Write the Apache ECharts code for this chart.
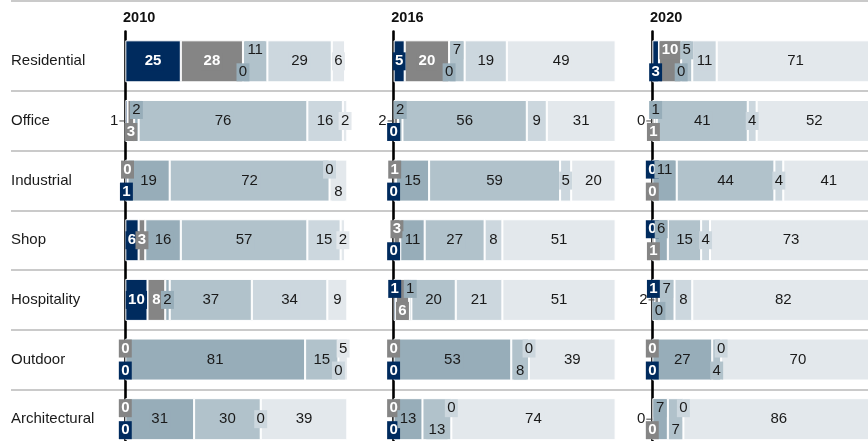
<!DOCTYPE html>
<html><head><meta charset="utf-8">
<script src="https://cdn.jsdelivr.net/npm/echarts@6/dist/echarts.min.js"></script>
<style>html,body{margin:0;padding:0;background:#fff}#c{width:868px;height:441px}</style>
</head><body><div id="c"></div><script>
// ---------- data ----------
const categories = ['Residential','Office','Industrial','Shop','Hospitality','Outdoor','Architectural'];
const years = ['2010','2016','2020'];
const segmentNames = ['Segment 1','Segment 2','Segment 3','Segment 4','Segment 5','Segment 6'];

// 2010
const v2010_s1 = [25, 1, 1, 6, 10, 0, 0];
const v2010_s2 = [28, 3, 0, 3, 8, 0, 0];
const v2010_s3 = [0, 2, 19, 16, 2, 81, 31];
const v2010_s4 = [11, 76, 72, 57, 37, 15, 30];
const v2010_s5 = [29, 16, 0, 15, 34, 0, 0];
const v2010_s6 = [6, 2, 8, 2, 9, 5, 39];
// 2016
const v2016_s1 = [5, 0, 0, 0, 1, 0, 0];
const v2016_s2 = [20, 2, 1, 3, 6, 0, 0];
const v2016_s3 = [0, 2, 15, 11, 1, 53, 13];
const v2016_s4 = [7, 56, 59, 27, 20, 8, 13];
const v2016_s5 = [19, 9, 5, 8, 21, 0, 0];
const v2016_s6 = [49, 31, 20, 51, 51, 39, 74];
// 2020
const v2020_s1 = [3, 0, 0, 0, 1, 0, 0];
const v2020_s2 = [10, 1, 0, 1, 2, 0, 0];
const v2020_s3 = [0, 1, 11, 6, 0, 27, 7];
const v2020_s4 = [5, 41, 44, 15, 7, 4, 7];
const v2020_s5 = [11, 4, 4, 4, 8, 0, 0];
const v2020_s6 = [71, 52, 41, 73, 82, 70, 86];

// ---------- label placement (c=centre, u=up, d=down, o=outside left) ----------
const place2010 = ['ccducc','oduccc','duccud','cccccc','cccccc','duccdu','duccc c'.replace(' ','')];
const place2016 = ['ccducc','douccc','duccc c'.replace(' ',''),'duccc c'.replace(' ',''),'uduccc','ducduc','ducduc'];
const place2020 = ['duducc','oduccc','uduccc','uduccc','uoducc','ducduc','odudu c'.replace(' ','')];

// ---------- styling ----------
const colors = ['#002b5e','#858585','#97adb9','#b1c2cb','#ccd7de','#e3e8ec'];
const FONT = '"Liberation Sans", Arial, sans-serif';
const axisX = [124, 392.3, 651];
const AX_OFF = 1.3;
const PANEL_W = 222;
const GRID_TOP = 31.5, GRID_H = 417.5;

const values = [
  [v2010_s1, v2010_s2, v2010_s3, v2010_s4, v2010_s5, v2010_s6],
  [v2016_s1, v2016_s2, v2016_s3, v2016_s4, v2016_s5, v2016_s6],
  [v2020_s1, v2020_s2, v2020_s3, v2020_s4, v2020_s5, v2020_s6]
];
const places = [place2010, place2016, place2020];

function makeLabel(v, s, code) {
  const dark = s < 2;
  if (code === 'o') {
    return {
      show: true, position: 'left', distance: 0,
      formatter: '{v|' + v + '}{l|}',
      rich: {
        v: { fontSize: 15, fontFamily: FONT, color: '#1a1a1a', padding: [0, 1, 0, 0] },
        l: { width: 6, height: 1, backgroundColor: '#444' }
      }
    };
  }
  const dy = code === 'u' ? -11 : (code === 'd' ? 11 : 0);
  return {
    show: true, position: 'inside', offset: [0, dy],
    fontSize: 15, fontFamily: FONT,
    color: dark ? '#ffffff' : '#1a1a1a',
    fontWeight: dark ? 'bold' : 'normal',
    backgroundColor: colors[s],
    padding: [2, 2.3, 1, 2.3],
    lineHeight: 15
  };
}

const grids = [], xAxes = [], yAxes = [], series = [], titles = [];
years.forEach((yr, i) => {
  grids.push({ left: axisX[i] + AX_OFF, top: GRID_TOP, width: PANEL_W, height: GRID_H, outerBoundsMode: 'none', containLabel: false });
  xAxes.push({ type: 'value', gridIndex: i, min: 0, max: 100, show: false });
  yAxes.push({
    type: 'category', gridIndex: i, data: categories, inverse: true, offset: AX_OFF, z: 1,
    axisLine: { show: true, lineStyle: { color: '#000', width: 2.6 } },
    axisTick: { show: false }, axisLabel: { show: false }, splitLine: { show: false }
  });
  titles.push({
    text: yr, left: axisX[i] - 1, top: 10, padding: 0,
    textStyle: { fontSize: 14.5, fontWeight: 'bold', color: '#111', fontFamily: FONT }
  });
  values[i].forEach((arr, s) => {
    series.push({
      type: 'bar', name: segmentNames[s], stack: 'y' + i,
      xAxisIndex: i, yAxisIndex: i, barWidth: 42, z: 2,
      itemStyle: { color: colors[s], borderColor: '#fff', borderWidth: 1 },
      data: arr.map((v, ci) => ({
        value: v,
        itemStyle: v === 0 ? { borderWidth: 0 } : undefined,
        label: makeLabel(v, s, places[i][ci][s])
      }))
    });
  });
});

// background grid: category names and row separators
grids.push({ left: 11, right: 0, top: GRID_TOP, height: GRID_H, outerBoundsMode: 'none', containLabel: false });
xAxes.push({ type: 'value', gridIndex: 3, min: 0, max: 1, show: false });
yAxes.push({
  type: 'category', gridIndex: 3, data: categories, inverse: true, z: 0,
  axisLine: { show: false }, axisTick: { show: false },
  axisLabel: { inside: true, margin: 0, fontSize: 15, color: '#1a1a1a', fontFamily: FONT, padding: [2, 0, 0, 0] },
  splitLine: { show: true, showMinLine: false, lineStyle: { color: '#b8b8b8', width: 1.5 } }
});

const chart = echarts.init(document.getElementById('c'), null, { renderer: 'canvas' });
chart.setOption({
  animation: false,
  backgroundColor: '#fff',
  textStyle: { fontFamily: FONT },
  title: titles,
  grid: grids, xAxis: xAxes, yAxis: yAxes, series: series,
  graphic: [{ type: 'line', shape: { x1: 11, y1: 1, x2: 868, y2: 1 }, style: { stroke: '#b8b8b8', lineWidth: 1.5 } }]
});
</script></body></html>
